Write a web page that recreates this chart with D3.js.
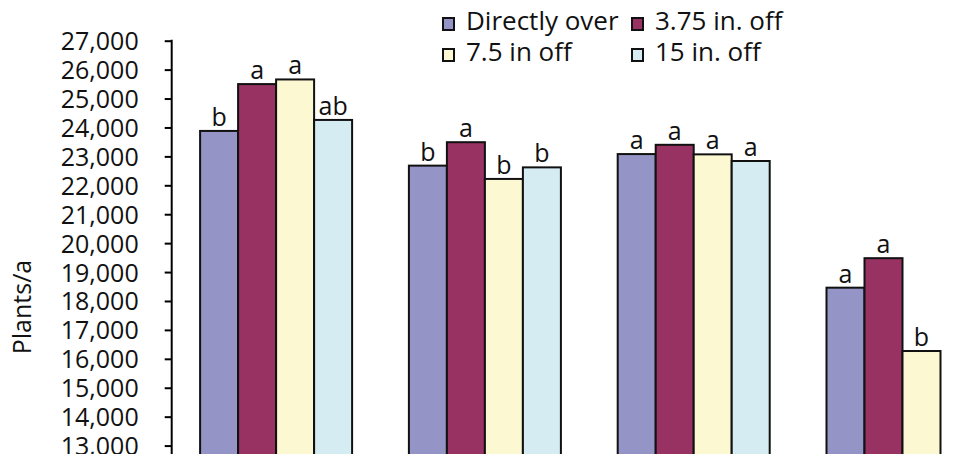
<!DOCTYPE html>
<html>
<head>
<meta charset="utf-8">
<script src="https://cdn.jsdelivr.net/npm/d3@7"></script>
<style>
  html, body { margin: 0; padding: 0; background: #fff; }
  svg { display: block; }
  text { font-family: "Open Sans", "Noto Sans", sans-serif; fill: #111; }
</style>
</head>
<body>
<svg id="chart" width="960" height="454"></svg>
<script>
// Plant stands by seed placement relative to the row
const categories = ["Group 1", "Group 2", "Group 3", "Group 4"];
const seriesNames = ["Directly over", "3.75 in. off", "7.5 in off", "15 in. off"];
const seriesColors = ["#9494c6", "#983263", "#fbf8d2", "#d4ecf2"];

const directlyOver = [23880, 22680, 23080, 18460];
const off375 = [25500, 23490, 23400, 19480];
const off75 = [25660, 22220, 23070, 16270];
const off15 = [24260, 22620, 22840, null];

const lettersDirectlyOver = ["b", "b", "a", "a"];
const letters375 = ["a", "a", "a", "a"];
const letters75 = ["a", "b", "a", "b"];
const letters15 = ["ab", "b", "a", null];

const yTicks = [13000, 14000, 15000, 16000, 17000, 18000, 19000, 20000,
                21000, 22000, 23000, 24000, 25000, 26000, 27000];
const yTitle = "Plants/a";

const seriesValues = [directlyOver, off375, off75, off15];
const seriesLetters = [lettersDirectlyOver, letters375, letters75, letters15];

const svg = d3.select("#chart");

const y = d3.scaleLinear().domain([12000, 27000]).range([474.5, 40.7]);

const x0 = d3.scaleBand()
  .domain(categories)
  .range([171.7, 1006.9])
  .paddingInner(0.272)
  .paddingOuter(0.136);

const x1 = d3.scaleBand()
  .domain(seriesNames)
  .range([0, x0.bandwidth()])
  .padding(0);

// bars
const groups = svg.append("g").selectAll("g")
  .data(categories)
  .join("g")
  .attr("transform", d => `translate(${x0(d)},0)`);

const cells = groups.selectAll("g.cell")
  .data((c, ci) => seriesNames.map((s, si) => ({
    series: s, si, value: seriesValues[si][ci], letter: seriesLetters[si][ci]
  })).filter(d => d.value != null))
  .join("g")
  .attr("class", "cell");

cells.append("rect")
  .attr("x", d => x1(d.series))
  .attr("y", d => y(d.value))
  .attr("width", x1.bandwidth())
  .attr("height", d => y(12000) - y(d.value))
  .attr("fill", d => seriesColors[d.si])
  .attr("stroke", "#111")
  .attr("stroke-width", 2);

cells.append("text")
  .attr("x", d => x1(d.series) + x1.bandwidth() / 2)
  .attr("y", d => y(d.value) - 5)
  .attr("text-anchor", "middle")
  .attr("font-size", 25)
  .text(d => d.letter);

// y axis
const yAxis = d3.axisLeft(y)
  .tickValues(yTicks)
  .tickFormat(d3.format(","))
  .tickSizeOuter(0)
  .tickSize(7)
  .tickPadding(26);

const ag = svg.append("g")
  .attr("transform", "translate(171.7,0)")
  .call(yAxis);
ag.select(".domain").remove();
ag.append("line")
  .attr("x1", 0).attr("x2", 0)
  .attr("y1", y(27000) - 1).attr("y2", y(12000))
  .attr("stroke", "#000").attr("stroke-width", 2);
ag.selectAll(".tick line").attr("stroke", "#000").attr("stroke-width", 2);
ag.selectAll(".tick text")
  .attr("font-size", 25)
  .attr("font-family", "'Open Sans', sans-serif")
  .attr("fill", "#111")
  .attr("dy", "0.36em");

svg.append("text")
  .attr("transform", "translate(31,307) rotate(-90)")
  .attr("text-anchor", "middle")
  .attr("font-size", 25)
  .text(yTitle);

// legend
const legendPos = [
  { sx: 443, tx: 466, y: 30 },
  { sx: 632, tx: 655, y: 30 },
  { sx: 443, tx: 466, y: 61 },
  { sx: 632, tx: 655, y: 61 }
];
const legend = svg.append("g").selectAll("g")
  .data(seriesNames)
  .join("g");
legend.append("rect")
  .attr("x", (d, i) => legendPos[i].sx)
  .attr("y", (d, i) => legendPos[i].y - 12)
  .attr("width", 11)
  .attr("height", 12)
  .attr("fill", (d, i) => seriesColors[i])
  .attr("stroke", "#111")
  .attr("stroke-width", 2);
legend.append("text")
  .attr("x", (d, i) => legendPos[i].tx)
  .attr("y", (d, i) => legendPos[i].y)
  .attr("font-size", 26)
  .text(d => d);
</script>
</body>
</html>
